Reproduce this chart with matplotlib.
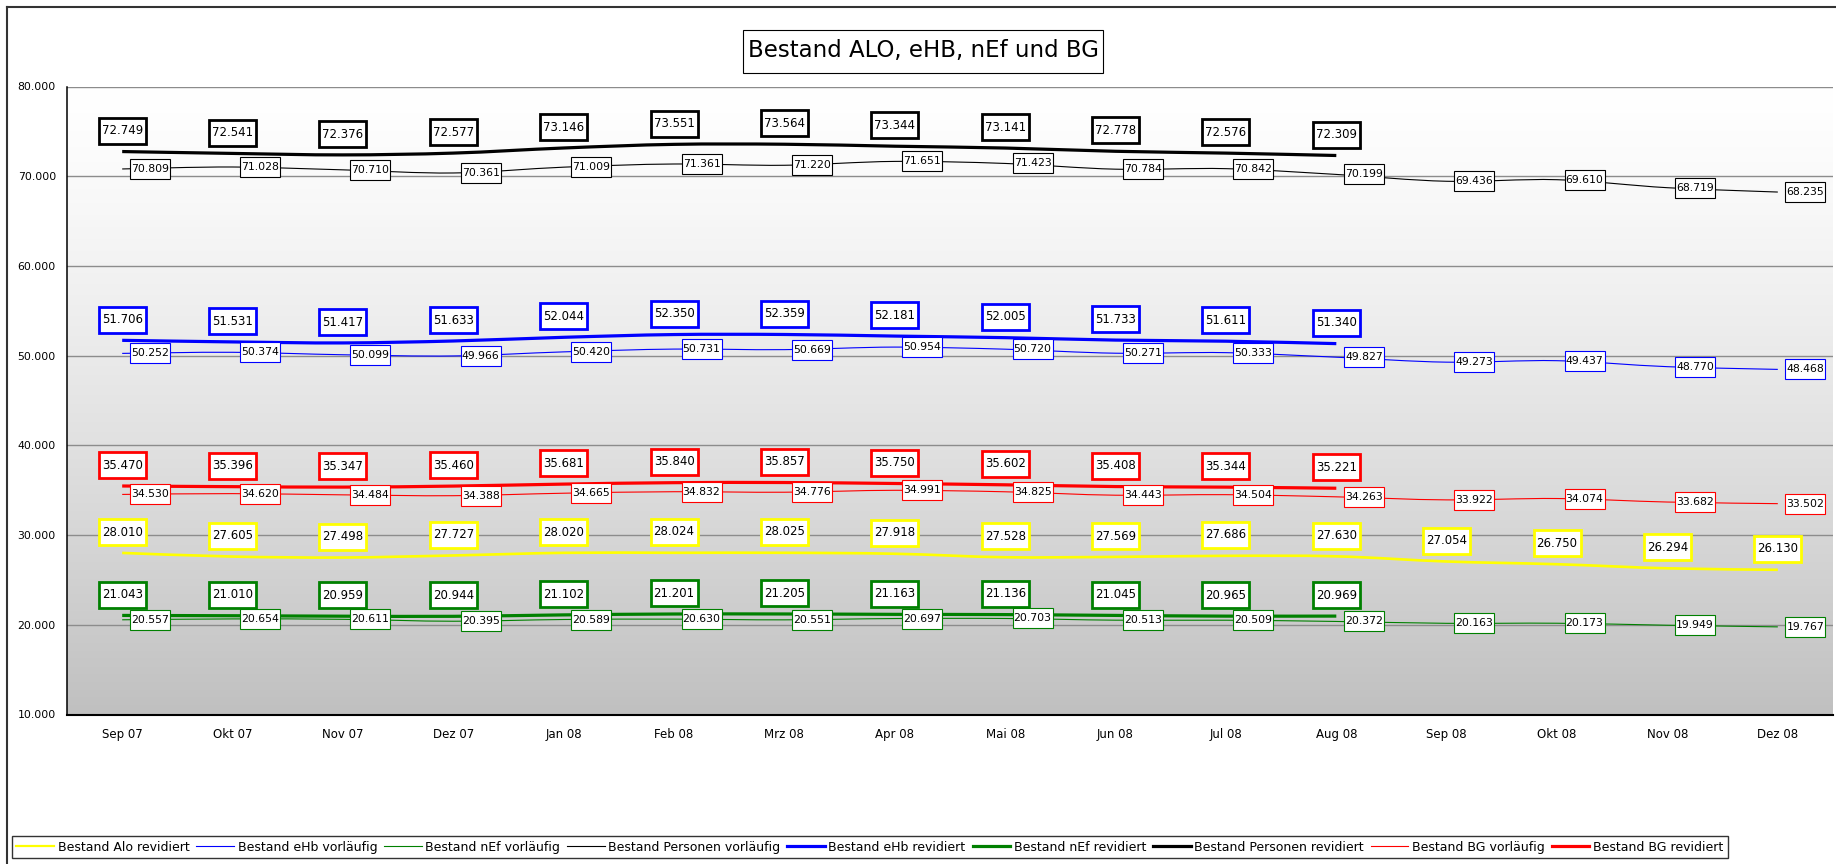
import numpy as np
import matplotlib
matplotlib.use("Agg")
import matplotlib.pyplot as plt
from matplotlib.path import Path
from matplotlib.patches import PathPatch
from matplotlib.lines import Line2D

months = ["Sep 07", "Okt 07", "Nov 07", "Dez 07", "Jan 08", "Feb 08", "Mrz 08", "Apr 08",
          "Mai 08", "Jun 08", "Jul 08", "Aug 08", "Sep 08", "Okt 08", "Nov 08", "Dez 08"]

alo_rev = [28010, 27605, 27498, 27727, 28020, 28024, 28025, 27918, 27528, 27569, 27686, 27630,
           27054, 26750, 26294, 26130]
ehb_vor = [50252, 50374, 50099, 49966, 50420, 50731, 50669, 50954, 50720, 50271, 50333, 49827,
           49273, 49437, 48770, 48468]
nef_vor = [20557, 20654, 20611, 20395, 20589, 20630, 20551, 20697, 20703, 20513, 20509, 20372,
           20163, 20173, 19949, 19767]
pers_vor = [70809, 71028, 70710, 70361, 71009, 71361, 71220, 71651, 71423, 70784, 70842, 70199,
            69436, 69610, 68719, 68235]
ehb_rev = [51706, 51531, 51417, 51633, 52044, 52350, 52359, 52181, 52005, 51733, 51611, 51340]
nef_rev = [21043, 21010, 20959, 20944, 21102, 21201, 21205, 21163, 21136, 21045, 20965, 20969]
pers_rev = [72749, 72541, 72376, 72577, 73146, 73551, 73564, 73344, 73141, 72778, 72576, 72309]
bg_vor = [34530, 34620, 34484, 34388, 34665, 34832, 34776, 34991, 34825, 34443, 34504, 34263,
          33922, 34074, 33682, 33502]
bg_rev = [35470, 35396, 35347, 35460, 35681, 35840, 35857, 35750, 35602, 35408, 35344, 35221]

y_ticks = [10000, 20000, 30000, 40000, 50000, 60000, 70000, 80000]

title = "Bestand ALO, eHB, nEf und BG"

# (name, values, color, kind)
series = [
    ("Bestand Alo revidiert", alo_rev, "#FFFF00", "alo"),
    ("Bestand eHb vorläufig", ehb_vor, "#0000FF", "vor"),
    ("Bestand nEf vorläufig", nef_vor, "#008000", "vor"),
    ("Bestand Personen vorläufig", pers_vor, "#000000", "vor"),
    ("Bestand eHb revidiert", ehb_rev, "#0000FF", "rev"),
    ("Bestand nEf revidiert", nef_rev, "#008000", "rev"),
    ("Bestand Personen revidiert", pers_rev, "#000000", "rev"),
    ("Bestand BG vorläufig", bg_vor, "#FF0000", "vor"),
    ("Bestand BG revidiert", bg_rev, "#FF0000", "rev"),
]

W, H = 1836, 864
fig = plt.figure(figsize=(W / 100, H / 100), dpi=100)
ax = fig.add_axes([67 / W, 1 - 714.5 / H, (1833 - 67) / W, (714.5 - 86.5) / H])

# background gradient
t = np.linspace(0, 1, 256)[:, None]
v = (255 - 63 * t ** 1.3) / 255.0
grad = np.dstack([v, v, v])
ax.imshow(grad, extent=(0, 1, 0, 1), transform=ax.transAxes, aspect="auto",
          zorder=0.1, origin="upper")

ax.set_xlim(-0.5, len(months) - 0.5)
ax.set_ylim(y_ticks[0], y_ticks[-1])
ax.set_xticks(range(len(months)))
ax.set_xticklabels(months, fontsize=8.5)
ax.set_yticks(y_ticks)
ax.set_yticklabels([f"{v:,}".replace(",", ".") for v in y_ticks], fontsize=7.8)
ax.tick_params(axis="x", length=0, pad=10)
ax.tick_params(axis="y", length=0, pad=8)
ax.set_axisbelow(True)
ax.yaxis.grid(True, color="#8c8c8c", lw=1.0)
for s in ("top", "right"):
    ax.spines[s].set_visible(False)
ax.spines["left"].set_linewidth(1.1)
ax.spines["bottom"].set_linewidth(1.5)


def smooth_path(xs, ys):
    pts = np.column_stack([xs, ys]).astype(float)
    n = len(pts)
    verts = [pts[0]]
    codes = [Path.MOVETO]
    for i in range(n - 1):
        p0 = pts[i - 1] if i > 0 else pts[i]
        p1 = pts[i]
        p2 = pts[i + 1]
        p3 = pts[i + 2] if i + 2 < n else pts[i + 1]
        c1 = p1 + (p2 - p0) / 6.0
        c2 = p2 - (p3 - p1) / 6.0
        verts += [c1, c2, p2]
        codes += [Path.CURVE4] * 3
    return Path(verts, codes)


def fixed_box(bw, bh):
    def f(x0, y0, w, h, mutation_size):
        cx = x0 + w / 2.0
        cy = y0 + h / 2.0
        return Path([(cx - bw / 2, cy - bh / 2), (cx + bw / 2, cy - bh / 2),
                     (cx + bw / 2, cy + bh / 2), (cx - bw / 2, cy + bh / 2),
                     (cx - bw / 2, cy - bh / 2)],
                    [Path.MOVETO, Path.LINETO, Path.LINETO, Path.LINETO, Path.CLOSEPOLY])
    return f


def fmt(v):
    return f"{v:,}".replace(",", ".")


styles = {"vor": 0.8, "rev": 2.3, "alo": 1.9}
handles = []
for name, vals, color, kind in series:
    xs = np.arange(len(vals))
    path = smooth_path(xs, vals)
    ax.add_patch(PathPatch(path, fill=False, edgecolor=color, lw=styles[kind],
                           capstyle="butt", joinstyle="round", zorder=3))
    handles.append(Line2D([], [], color=color, lw=styles[kind] if kind != "alo" else 1.6))

for name, vals, color, kind in series:
    for i, val in enumerate(vals):
        if kind == "vor":
            ax.annotate(fmt(val), (i, val), xytext=(19.8, 0), textcoords="offset points",
                        ha="center", va="center", fontsize=7.8, zorder=5,
                        bbox=dict(boxstyle=fixed_box(40, 20), fc="white", ec=color, lw=0.8))
        else:
            ax.annotate(fmt(val), (i, val), xytext=(0, 15.0), textcoords="offset points",
                        ha="center", va="center", fontsize=8.5, zorder=6,
                        bbox=dict(boxstyle=fixed_box(47, 26), fc="white", ec=color, lw=2.0))

# title
fig.text(923 / W, 1 - 51 / H, title, ha="center", va="center", fontsize=16.5,
         bbox=dict(boxstyle=fixed_box(360, 43), fc="white", ec="black", lw=0.8))

# outer frame (left and top edges)
fig.add_artist(Line2D([6.5 / W, 6.5 / W], [0, 1 - 6.5 / H], transform=fig.transFigure,
                      color="#333333", lw=1.5))
fig.add_artist(Line2D([6.5 / W, 1], [1 - 6.5 / H, 1 - 6.5 / H], transform=fig.transFigure,
                      color="#333333", lw=1.5))

leg = fig.legend(handles, [s[0] for s in series], loc="lower left",
                 bbox_to_anchor=(12 / W, 6 / H), ncol=len(series), fontsize=9.0,
                 frameon=True, fancybox=False, edgecolor="black", handlelength=3.0,
                 handletextpad=0.3, columnspacing=0.55, borderpad=0.35, borderaxespad=0)
leg.get_frame().set_linewidth(1.0)

fig.savefig("out.png", dpi=100, facecolor="white")
